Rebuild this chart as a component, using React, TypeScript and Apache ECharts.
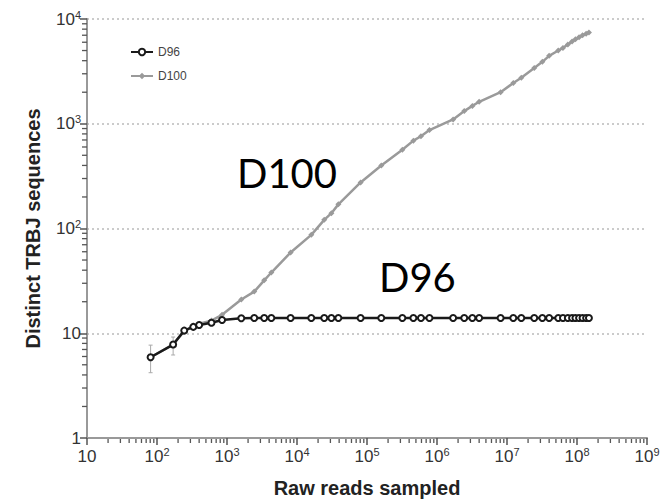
import React, { useEffect, useRef } from "react";
import * as echarts from "echarts";

// Raw reads sampled (x) shared by both series
const readsSampled = [
  81, 170, 245, 330, 400, 600, 850, 1600, 2450, 3400, 4300, 8100, 16000, 24500,
  31000, 39000, 81000, 160000, 320000, 460000, 590000, 780000, 1.7e6, 2.45e6,
  3.2e6, 4e6, 8.1e6, 1.23e7, 1.6e7, 2.45e7, 3.2e7, 4e7, 5.4e7, 6.3e7, 7.4e7,
  8.5e7, 9.5e7, 1.07e8, 1.2e8, 1.35e8, 1.48e8,
];

const d96Values = [
  5.9, 7.8, 10.6, 11.5, 12, 12.6, 13.4, 13.9, 14, 14, 14, 14, 14, 14, 14, 14,
  14, 14, 14, 14, 14, 14, 14, 14, 14, 14, 14, 14, 14, 14, 14, 14, 14, 14, 14, 14,
  14, 14, 14, 14, 14,
];

const d100Values = [
  5.9, 7.8, 10.5, 11.8, 12.3, 13.2, 15, 21, 25, 32, 38, 59, 87, 121, 140, 170,
  275, 400, 565, 690, 760, 870, 1100, 1320, 1480, 1620, 2000, 2450, 2750, 3400,
  3900, 4450, 5000, 5300, 5700, 6100, 6400, 6700, 7000, 7250, 7450,
];

// error bars: [x, low, high]
const d100Errors = [
  [81, 4.2, 7.7],
  [170, 6.2, 9.2],
];

// minor tick positions (values 2..9 × 10^n)
const xMinorTicks: number[] = [];
for (let e = 1; e <= 8; e++) for (let k = 2; k <= 9; k++) xMinorTicks.push(k * Math.pow(10, e));
const yMinorTicks: number[] = [];
for (let e = 0; e <= 3; e++) for (let k = 2; k <= 9; k++) yMinorTicks.push(k * Math.pow(10, e));

const fmtPow = (v: number) => {
  const e = Math.round(Math.log10(v));
  if (e === 0) return "1";
  if (e === 1) return "10";
  return `10{sup|${e}}`;
};

const labelRich = {
  sup: { fontSize: 11, verticalAlign: "top", lineHeight: 12, color: "#333", fontFamily: "Liberation Sans" },
};

export default function App() {
  const ref = useRef<HTMLDivElement>(null);
  useEffect(() => {
    if (!ref.current) return;
    const chart = echarts.init(ref.current, undefined, { renderer: "svg" });
    const axisColor = "#999";
    chart.setOption({
      animation: false,
      backgroundColor: "#fff",
      grid: { left: 87, right: 25, top: 19, bottom: 65 },
      legend: {
        data: ["D96", "D100"],
        orient: "vertical",
        left: 125,
        top: 41,
        itemWidth: 22,
        itemHeight: 8,
        itemGap: 12,
        textStyle: { fontSize: 12, color: "#444", fontFamily: "Liberation Sans" },
      },
      xAxis: {
        type: "log",
        logBase: 10,
        min: 10,
        max: 1e9,
        name: "Raw reads sampled",
        nameLocation: "middle",
        nameGap: 40,
        nameTextStyle: { fontSize: 20, fontWeight: "bold", color: "#222", fontFamily: "Liberation Sans" },
        axisLine: { lineStyle: { color: axisColor, width: 2 } },
        axisTick: { show: true, length: 7, lineStyle: { color: "#555", width: 1.5 } },
        splitLine: { show: false },
        axisLabel: {
          formatter: fmtPow,
          rich: labelRich,
          fontSize: 17,
          color: "#333",
          margin: 8,
          fontFamily: "Liberation Sans",
          lineHeight: 20,
        },
      },
      yAxis: {
        type: "log",
        logBase: 10,
        min: 1,
        max: 10000,
        name: "Distinct TRBJ sequences",
        nameLocation: "middle",
        nameGap: 44,
        nameTextStyle: { fontSize: 20, fontWeight: "bold", color: "#222", fontFamily: "Liberation Sans" },
        axisLine: { show: true, lineStyle: { color: axisColor, width: 2 } },
        axisTick: { show: true, length: 7, lineStyle: { color: "#555", width: 1.5 } },
        splitLine: { show: true, lineStyle: { color: "#bbb", type: [2, 3], width: 1.5 } },
        axisLabel: {
          formatter: fmtPow,
          rich: labelRich,
          fontSize: 17,
          color: "#333",
          margin: 6,
          fontFamily: "Liberation Sans",
          lineHeight: 20,
        },
      },
      graphic: [
        { type: "text", left: 237, top: 153, style: { text: "D100", font: "40px Lato", fill: "#000" } },
        { type: "text", left: 379, top: 257, style: { text: "D96", font: "40px Lato", fill: "#000" } },
      ],
      series: [
        {
          name: "minorTicks",
          type: "custom",
          data: [
            ...xMinorTicks.map((v) => [v, 2, 0]),
            ...yMinorTicks.map((v) => [20, v, 1]),
          ],
          encode: { x: 0, y: 1 },
          z: 5,
          renderItem: (params: any, api: any) => {
            const p = api.coord([api.value(0), api.value(1)]);
            const cs = params.coordSys;
            const isY = api.value(2) === 1;
            const shape = isY
              ? { x1: cs.x - 5, y1: p[1], x2: cs.x, y2: p[1] }
              : { x1: p[0], y1: cs.y + cs.height + 1, x2: p[0], y2: cs.y + cs.height + 5 };
            return {
              type: "line",
              shape,
              style: { stroke: "#555", lineWidth: 1.3 },
            };
          },
        },
        {
          name: "D100-err",
          type: "custom",
          data: d100Errors,
          encode: { x: 0, y: [1, 2] },
          z: 1,
          renderItem: (params: any, api: any) => {
            const x = api.value(0);
            const p1 = api.coord([x, api.value(1)]);
            const p2 = api.coord([x, api.value(2)]);
            const st = { stroke: "#aaa", lineWidth: 1 };
            return {
              type: "group",
              children: [
                { type: "line", shape: { x1: p1[0], y1: p1[1], x2: p2[0], y2: p2[1] }, style: st },
                { type: "line", shape: { x1: p1[0] - 2, y1: p1[1], x2: p1[0] + 2, y2: p1[1] }, style: st },
                { type: "line", shape: { x1: p2[0] - 2, y1: p2[1], x2: p2[0] + 2, y2: p2[1] }, style: st },
              ],
            };
          },
        },
        {
          name: "D100",
          type: "line",
          data: readsSampled.map((x, i) => [x, d100Values[i]]),
          symbol: "diamond",
          symbolSize: 6,
          lineStyle: { color: "#9a9a9a", width: 2.5 },
          itemStyle: { color: "#9a9a9a" },
          z: 2,
        },
        {
          name: "D96",
          type: "line",
          data: readsSampled.map((x, i) => [x, d96Values[i]]),
          symbol: "emptyCircle",
          symbolSize: 6,
          lineStyle: { color: "#1a1a1a", width: 2.5 },
          itemStyle: { color: "#1a1a1a", borderColor: "#555", borderWidth: 1 },
          z: 3,
        },
      ],
    });
    return () => chart.dispose();
  }, []);
  return (
    <div
      ref={ref}
      style={{ position: "fixed", left: 0, top: 0, width: 672, height: 503, background: "#fff" }}
    />
  );
}
